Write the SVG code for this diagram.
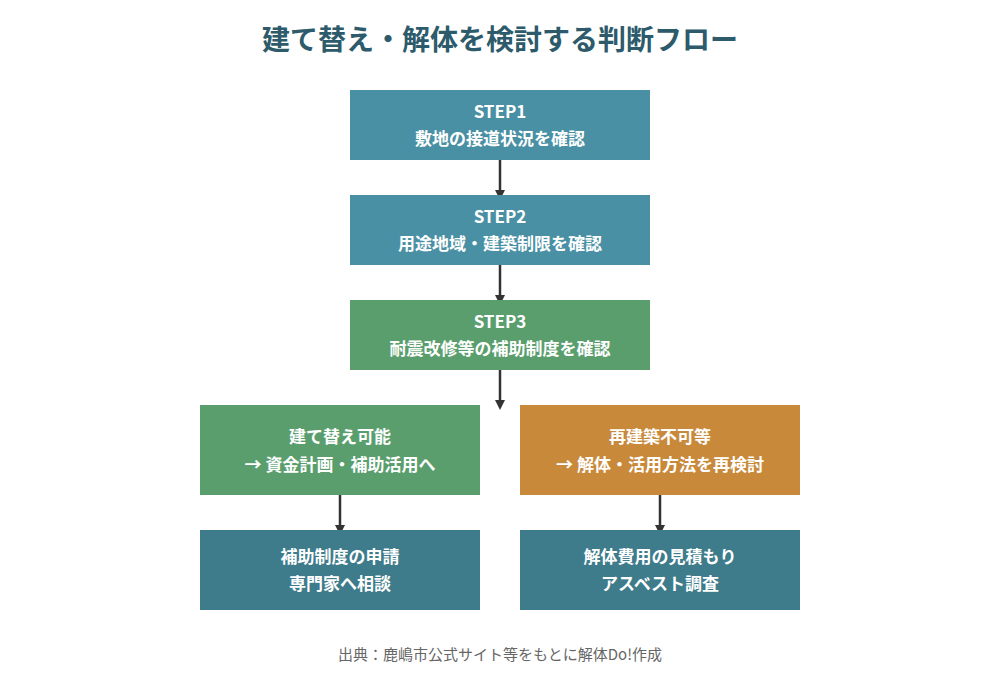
<svg xmlns="http://www.w3.org/2000/svg" width="1000" height="700" viewBox="0 0 1000 700">
<defs>
<style>
text{font-family:"Noto Sans CJK JP","Noto Sans",sans-serif;text-anchor:middle}
.t{font-size:17px;font-weight:bold;fill:#fff}
.c{stroke:#333;stroke-width:2.5;fill:none;marker-end:url(#a)}
</style>
<marker id="a" markerWidth="10" markerHeight="10" refX="5" refY="5" orient="auto" markerUnits="userSpaceOnUse" viewBox="0 0 10 10"><path d="M0,0L10,5L0,10z" fill="#333"/></marker>
</defs>
<rect width="1000" height="700" fill="#fff"/>
<text x="500" y="50" font-size="28" font-weight="bold" fill="#2d5b6b">建て替え・解体を検討する判断フロー</text>
<g id="connectors">
<line class="c" x1="500" y1="160" x2="500" y2="195"/>
<line class="c" x1="500" y1="265" x2="500" y2="300"/>
<line class="c" x1="500" y1="370" x2="500" y2="405"/>
<line class="c" x1="340" y1="495" x2="340" y2="530"/>
<line class="c" x1="660" y1="495" x2="660" y2="530"/>
</g>
<g id="step1"><rect x="350" y="90" width="300" height="70" fill="#4a90a4"/><text class="t" x="500" y="118">STEP1</text><text class="t" x="500" y="145">敷地の接道状況を確認</text></g>
<g id="step2"><rect x="350" y="195" width="300" height="70" fill="#4a90a4"/><text class="t" x="500" y="223">STEP2</text><text class="t" x="500" y="250">用途地域・建築制限を確認</text></g>
<g id="step3"><rect x="350" y="300" width="300" height="70" fill="#5a9e6e"/><text class="t" x="500" y="328">STEP3</text><text class="t" x="500" y="355">耐震改修等の補助制度を確認</text></g>
<g id="left"><rect x="200" y="405" width="280" height="90" fill="#5a9e6e"/><text class="t" x="340" y="443">建て替え可能</text><text class="t" x="340" y="471">→ 資金計画・補助活用へ</text></g>
<g id="right"><rect x="520" y="405" width="280" height="90" fill="#c8893b"/><text class="t" x="660" y="443">再建築不可等</text><text class="t" x="660" y="471">→ 解体・活用方法を再検討</text></g>
<g id="left2"><rect x="200" y="530" width="280" height="80" fill="#3e7b8b"/><text class="t" x="340" y="563">補助制度の申請</text><text class="t" x="340" y="590">専門家へ相談</text></g>
<g id="right2"><rect x="520" y="530" width="280" height="80" fill="#3e7b8b"/><text class="t" x="660" y="563">解体費用の見積もり</text><text class="t" x="660" y="590">アスベスト調査</text></g>
<text x="500" y="660" font-size="15" fill="#666">出典：鹿嶋市公式サイト等をもとに解体Do!作成</text>
</svg>
